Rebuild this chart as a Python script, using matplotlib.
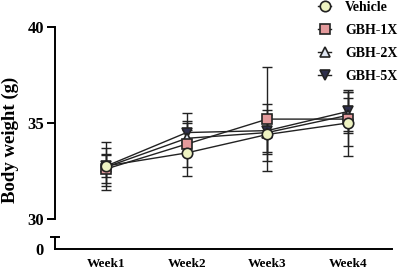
import numpy as np
import matplotlib.pyplot as plt
from matplotlib.ticker import FixedLocator

plt.rcParams['font.family'] = 'Liberation Serif'
plt.rcParams['font.weight'] = 'bold'

weeks = ['Week1', 'Week2', 'Week3', 'Week4']
groups = ['Vehicle', 'GBH-1X', 'GBH-2X', 'GBH-5X']

vehicle = [32.76, 33.44, 34.4, 35.0]
vehicle_sd = [0.6, 1.2, 1.0, 1.7]
gbh1 = [32.6, 33.9, 35.2, 35.2]
gbh1_sd = [0.75, 1.2, 2.7, 1.4]
gbh2 = [32.7, 34.2, 34.5, 35.4]
gbh2_sd = [1.0, 0.8, 1.5, 0.9]
gbh5 = [32.75, 34.5, 34.6, 35.6]
gbh5_sd = [1.25, 1.0, 1.1, 1.0]

means = [vehicle, gbh1, gbh2, gbh5]
sds = [vehicle_sd, gbh1_sd, gbh2_sd, gbh5_sd]
markers = ['o', 's', '^', 'v']
fills = ['#eef3c2', '#e49a9c', '#dfe6f2', '#2e2f4c']

fig = plt.figure(figsize=(4, 2.72), dpi=100)
ax = fig.add_axes([0.1375, 0.195, 0.8425, 0.706])
ax2 = fig.add_axes([0.1375, 0.083, 0.8425, 0.046])

x = np.arange(len(weeks))
handles = []
for i in [3, 2, 1, 0]:
    ax.errorbar(x, means[i], yerr=sds[i], fmt='none', ecolor='#222222',
                elinewidth=1.0, capsize=3.5, capthick=1.0, zorder=2)
    ln, = ax.plot(x, means[i], color='#222222', lw=1.0, marker=markers[i],
                  markersize=7.5, markerfacecolor=fills[i],
                  markeredgecolor='#222222', markeredgewidth=1.2,
                  label=groups[i], zorder=3 + (3 - i))
    handles.append(ln)
handles = handles[::-1]

for a in (ax, ax2):
    a.set_xlim(-0.632, 3.545)
    a.spines['top'].set_visible(False)
    a.spines['right'].set_visible(False)
    for s in a.spines.values():
        s.set_linewidth(1.4)

ax.set_ylim(30, 40)
ax.set_yticks([30, 35, 40])
ax.spines['bottom'].set_visible(False)
ax.tick_params(axis='y', length=6, width=1.4, labelsize=12, pad=2)
ax.tick_params(axis='x', bottom=False, labelbottom=False)

ax2.set_ylim(0, 1)
ax2.set_yticks([0])
ax2.yaxis.set_minor_locator(FixedLocator([1]))
ax2.tick_params(axis='y', which='major', length=0, labelsize=12, pad=8)
ax2.tick_params(axis='y', which='minor', length=7, width=1.4, direction='inout')
ax2.set_xticks(x)
ax2.set_xticklabels(weeks, fontsize=9.5)
ax2.tick_params(axis='x', length=0, pad=6)

fig.text(0.027, 0.485, 'Body weight (g)', rotation=90, fontsize=13.5,
         ha='center', va='center')

fig.legend(handles=handles, loc='upper left', bbox_to_anchor=(0.78, 1.018),
           frameon=False, fontsize=10, handlelength=1.0, handletextpad=1.0,
           labelspacing=0.72, borderaxespad=0)

fig.savefig('out.png', dpi=100)
